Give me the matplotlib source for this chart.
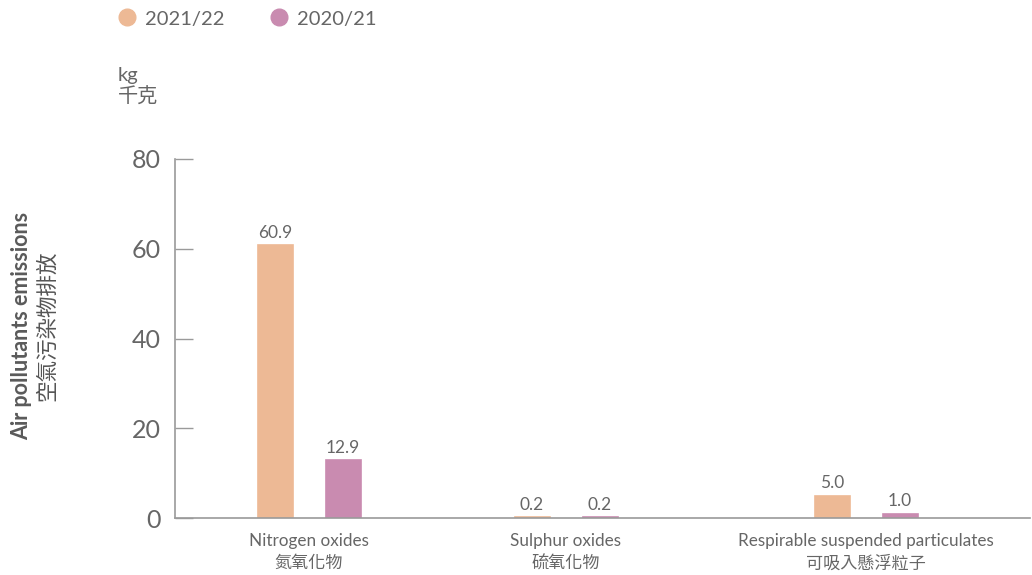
import matplotlib.pyplot as plt
from matplotlib.lines import Line2D

plt.rcParams['font.family'] = ['Lato', 'Noto Sans CJK TC', 'DejaVu Sans']

categories = ["Nitrogen oxides\n氮氧化物", "Sulphur oxides\n硫氧化物",
              "Respirable suspended particulates\n可吸入懸浮粒子"]
series = ["2021/22", "2020/21"]
values_2122 = [60.9, 0.2, 5.0]
values_2021 = [12.9, 0.2, 1.0]
labels_2122 = ["60.9", "0.2", "5.0"]
labels_2021 = ["12.9", "0.2", "1.0"]

# layout (x axis in pixel-like units of the original)
centers = [134, 391, 691]
offset = 34
bar_w = 35
c_new = "#EDB995"
c_old = "#C98BB0"
txt = "#666666"
axc = "#9a9a9a"

fig = plt.figure(figsize=(10.32, 5.75), dpi=100)
ax = fig.add_axes([175 / 1032, 57 / 575, 855 / 1032, 359 / 575])

x1 = [c - offset for c in centers]
x2 = [c + offset for c in centers]
b1 = ax.bar(x1, values_2122, width=bar_w, color=c_new, edgecolor=c_new, linewidth=1.2)
b2 = ax.bar(x2, values_2021, width=bar_w, color=c_old, edgecolor=c_old, linewidth=1.2)
ax.bar_label(b1, labels=labels_2122, padding=3, fontsize=12.5, color=txt)
ax.bar_label(b2, labels=labels_2021, padding=3, fontsize=12.5, color=txt)

ax.set_xlim(0, 855)
ax.set_ylim(0, 80)
ax.set_yticks([0, 20, 40, 60, 80])
ax.set_xticks(centers)
ax.set_xticklabels(categories, fontsize=12.3, color=txt, linespacing=1.45)
ax.tick_params(axis='x', length=0, pad=11)
ax.tick_params(axis='y', direction='in', length=13, width=1, color=axc,
               labelsize=18, labelcolor=txt, pad=10)

for s in ['top', 'right']:
    ax.spines[s].set_visible(False)
for s in ['left', 'bottom']:
    ax.spines[s].set_color(axc)
    ax.spines[s].set_linewidth(1.2)
    ax.spines[s].set_zorder(3)

# y axis title
fig.text(22 / 1032, 1 - 326 / 575, "Air pollutants emissions", rotation=90,
         ha='center', va='center', fontsize=15.5, color="#5a5a5a", fontweight='bold')
fig.text(47 / 1032, 1 - 326 / 575, "空氣污染物排放", rotation=90,
         ha='center', va='center', fontsize=15.5, color="#555555")

# unit
fig.text(118 / 1032, 1 - 86 / 575, "kg\n千克", ha='left', va='center',
         fontsize=14.5, color=txt, linespacing=1.15)

# legend
handles = [Line2D([], [], marker='o', linestyle='none', markersize=12, color=c_new),
           Line2D([], [], marker='o', linestyle='none', markersize=12, color=c_old)]
leg = fig.legend(handles, series, loc='center left', bbox_to_anchor=(97 / 1032, 1 - 19 / 575),
                 ncol=2, frameon=False, fontsize=14.5, handletextpad=0.3,
                 columnspacing=2.1, handlelength=1.2)
for t in leg.get_texts():
    t.set_color(txt)

fig.savefig("out.png", dpi=100)
